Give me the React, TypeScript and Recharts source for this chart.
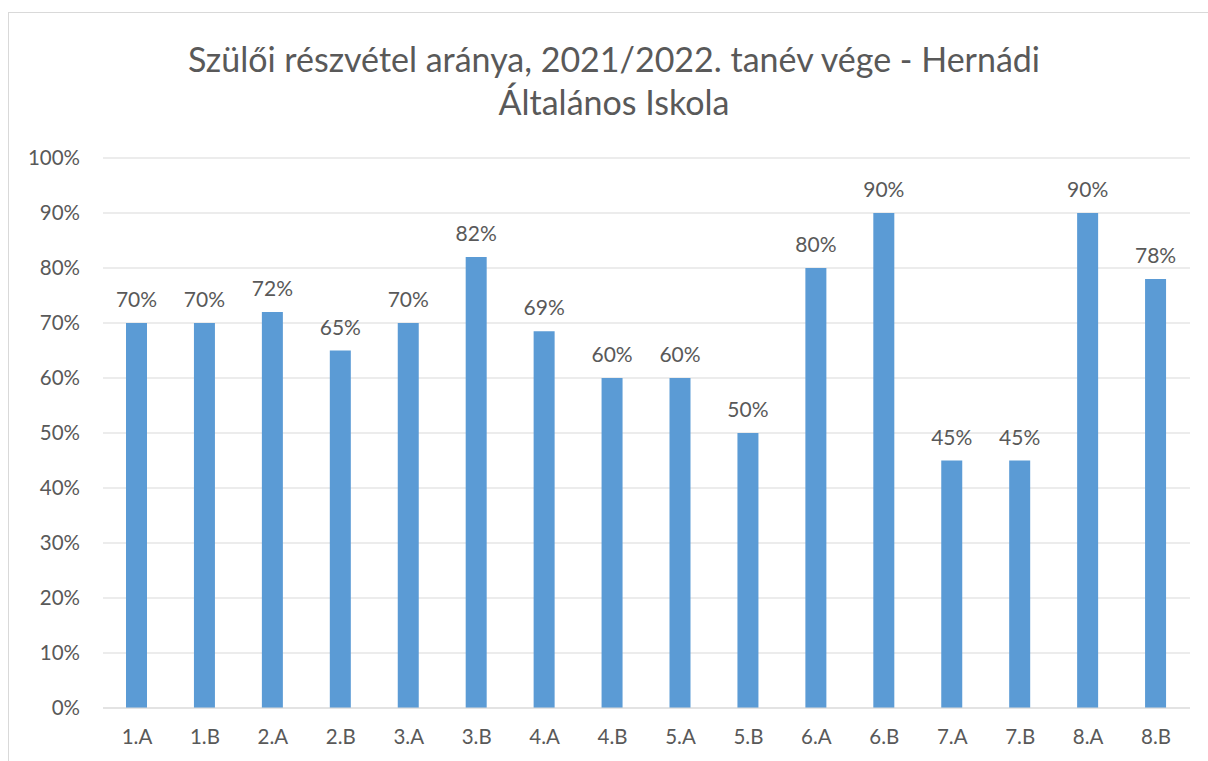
import React from 'react';
import { BarChart, Bar, XAxis, YAxis, CartesianGrid, LabelList } from 'recharts';

const classes = ['1.A', '1.B', '2.A', '2.B', '3.A', '3.B', '4.A', '4.B', '5.A', '5.B', '6.A', '6.B', '7.A', '7.B', '8.A', '8.B'];
const participation = [70, 70, 72, 65, 70, 82, 68.5, 60, 60, 50, 80, 90, 45, 45, 90, 78];
const yTicks = [0, 10, 20, 30, 40, 50, 60, 70, 80, 90, 100];
const titleLines = ['Szülői részvétel aránya, 2021/2022. tanév vége - Hernádi', 'Általános Iskola'];

const data = classes.map((name, i) => ({ name, value: participation[i] }));

const FONT = 'Lato, "Open Sans", sans-serif';
const TEXT = '#595959';

export default function App() {
  return (
    <div
      style={{
        position: 'absolute',
        left: 8,
        top: 12,
        width: 1210,
        height: 760,
        border: '1.5px solid #d9d9d9',
        background: '#fff',
        fontFamily: FONT,
      }}
    >
      <div
        style={{
          position: 'absolute',
          top: 24,
          left: 0,
          width: '100%',
          textAlign: 'center',
          color: TEXT,
          fontSize: 34,
          lineHeight: '43px',
        }}
      >
        {titleLines.map((t) => (
          <div key={t}>{t}</div>
        ))}
      </div>
      <BarChart
        width={1210}
        height={749}
        data={data}
        margin={{ top: 145, right: 29, bottom: 14, left: 0 }}
        style={{ position: 'absolute', top: 0, left: 0 }}
      >
        <CartesianGrid vertical={false} stroke="#d9d9d9" strokeWidth={1.2} />
        <XAxis
          dataKey="name"
          tickLine={false}
          axisLine={{ stroke: '#d9d9d9', strokeWidth: 1.2 }}
          tick={{ fontSize: 20.5, fill: TEXT, fontFamily: FONT }}
          tickMargin={15}
          height={40}
        />
        <YAxis
          domain={[0, 100]}
          ticks={yTicks}
          interval={0}
          tickLine={false}
          axisLine={false}
          width={94}
          tickMargin={17}
          tickFormatter={(v: number) => `${v}%`}
          tick={{ fontSize: 20.5, fill: TEXT, fontFamily: FONT }}
        />
        <Bar dataKey="value" fill="#5b9bd5" barSize={21} isAnimationActive={false}>
          <LabelList
            dataKey="value"
            position="top"
            offset={16}
            formatter={(v: number) => `${Math.round(v)}%`}
            style={{ fontSize: 21, fill: TEXT, fontFamily: FONT }}
          />
        </Bar>
      </BarChart>
    </div>
  );
}
